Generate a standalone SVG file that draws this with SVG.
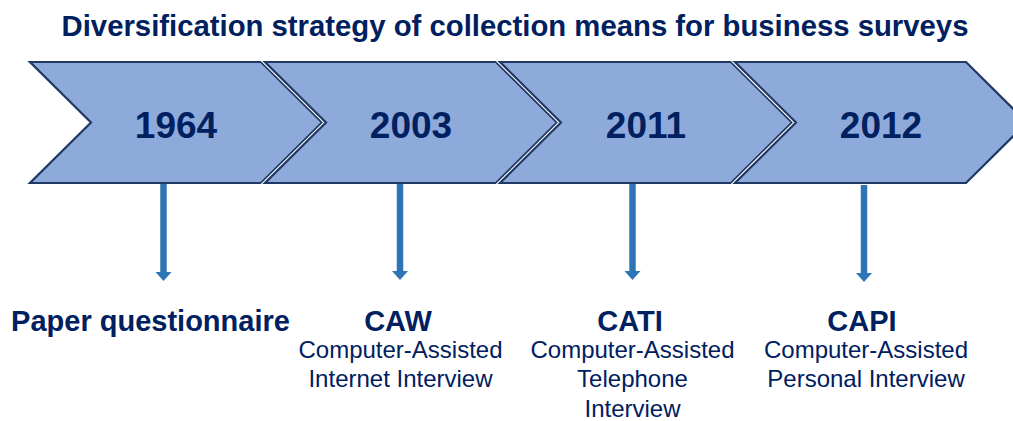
<svg xmlns="http://www.w3.org/2000/svg" width="1013" height="421" viewBox="0 0 1013 421">
<defs>
<style>
.chev-bg{fill:none;stroke:#ffffff;stroke-width:4.5;stroke-linejoin:miter}
.chev{fill:#8eaadb;stroke:#1f3864;stroke-width:2.2;stroke-linejoin:miter}
.year{font-family:"Liberation Sans",Arial,sans-serif;font-weight:bold;font-size:37px;fill:#002060;text-anchor:middle}
.title{font-family:"Liberation Sans",Arial,sans-serif;font-weight:bold;font-size:29.3px;fill:#002060;text-anchor:middle}
.head{font-family:"Liberation Sans",Arial,sans-serif;font-weight:bold;font-size:29px;fill:#002060;text-anchor:middle}
.sub{font-family:"Liberation Sans",Arial,sans-serif;font-size:24px;fill:#002060;text-anchor:middle}
.shaft{stroke:#2e75b6;stroke-width:6.5;fill:none}
.tip{fill:#2e75b6}
</style>
<polygon id="chevShape" points="0,62 231,62 292,122.5 231,183 0,183 61,122.5"/>
</defs>
<rect width="1013" height="421" fill="#ffffff"/>
<text class="title" x="515" y="36">Diversification strategy of collection means for business surveys</text>

<g id="node-1964">
<use href="#chevShape" x="30" class="chev-bg"/>
<use href="#chevShape" x="30" class="chev"/>
<text class="year" x="176" y="138">1964</text>
</g>
<g id="node-2003">
<use href="#chevShape" x="265" class="chev-bg"/>
<use href="#chevShape" x="265" class="chev"/>
<text class="year" x="411" y="138">2003</text>
</g>
<g id="node-2011">
<use href="#chevShape" x="500" class="chev-bg"/>
<use href="#chevShape" x="500" class="chev"/>
<text class="year" x="646" y="138">2011</text>
</g>
<g id="node-2012">
<use href="#chevShape" x="735" class="chev-bg"/>
<use href="#chevShape" x="735" class="chev"/>
<text class="year" x="881" y="138">2012</text>
</g>

<g id="connectors">
<line class="shaft" x1="163.5" y1="184" x2="163.5" y2="273"/>
<polygon class="tip" points="155.5,272 171.5,272 163.5,281"/>
<line class="shaft" x1="400" y1="184" x2="400" y2="272"/>
<polygon class="tip" points="392,271 408,271 400,280"/>
<line class="shaft" x1="632.5" y1="184" x2="632.5" y2="272"/>
<polygon class="tip" points="624.5,271 640.5,271 632.5,280"/>
<line class="shaft" x1="864" y1="185" x2="864" y2="274"/>
<polygon class="tip" points="856,273 872,273 864,282"/>
</g>

<g id="label-paper">
<text class="head" x="150.5" y="331">Paper questionnaire</text>
</g>
<g id="label-caw">
<text class="head" x="398" y="331">CAW</text>
<text class="sub" x="400.5" y="358">Computer-Assisted</text>
<text class="sub" x="400.5" y="387">Internet Interview</text>
</g>
<g id="label-cati">
<text class="head" x="630" y="331">CATI</text>
<text class="sub" x="632.5" y="358">Computer-Assisted</text>
<text class="sub" x="632.5" y="387">Telephone</text>
<text class="sub" x="632.5" y="417">Interview</text>
</g>
<g id="label-capi">
<text class="head" x="862" y="331">CAPI</text>
<text class="sub" x="866" y="358">Computer-Assisted</text>
<text class="sub" x="866" y="387">Personal Interview</text>
</g>
</svg>
